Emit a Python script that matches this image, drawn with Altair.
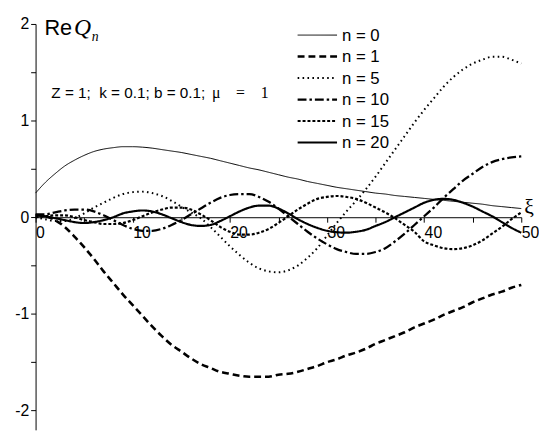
import altair as alt
import pandas as pd

# ---------------- data ----------------
xi = list(range(51))

n0 = [0.25, 0.36, 0.45, 0.53, 0.59, 0.64, 0.68, 0.705, 0.72, 0.73,
      0.73, 0.725, 0.715, 0.70, 0.685, 0.67, 0.65, 0.63, 0.61, 0.585,
      0.56, 0.535, 0.51, 0.49, 0.465, 0.44, 0.415, 0.395, 0.37, 0.35,
      0.33, 0.31, 0.295, 0.28, 0.265, 0.25, 0.24, 0.225, 0.215, 0.205,
      0.195, 0.185, 0.175, 0.165, 0.155, 0.145, 0.135, 0.12, 0.11, 0.10,
      0.09]

n1 = [0.02, 0.01, -0.03, -0.10, -0.20, -0.31, -0.43, -0.56, -0.68, -0.80,
      -0.91, -1.02, -1.13, -1.23, -1.32, -1.39, -1.46, -1.52, -1.56, -1.60,
      -1.62, -1.64, -1.65, -1.65, -1.65, -1.63, -1.62, -1.60, -1.57, -1.54,
      -1.50, -1.47, -1.43, -1.40, -1.36, -1.31, -1.27, -1.23, -1.19, -1.14,
      -1.10, -1.06, -1.01, -0.97, -0.93, -0.88, -0.84, -0.80, -0.77, -0.73,
      -0.70]

n5 = [0.0, -0.02, -0.04, -0.04, -0.01, 0.04, 0.10, 0.15, 0.20, 0.24,
      0.26, 0.265, 0.25, 0.22, 0.17, 0.11, 0.05, -0.01, -0.10, -0.20,
      -0.30, -0.39, -0.47, -0.53, -0.56, -0.57, -0.55, -0.50, -0.42, -0.32,
      -0.19, -0.06, 0.06, 0.17, 0.29, 0.42, 0.56, 0.70, 0.84, 0.98,
      1.11, 1.23, 1.35, 1.45, 1.53, 1.59, 1.63, 1.66, 1.66, 1.63,
      1.59]

n10 = [0.03, 0.03, 0.05, 0.07, 0.08, 0.08, 0.06, 0.02, -0.03, -0.08,
       -0.12, -0.14, -0.14, -0.12, -0.08, -0.03, 0.03, 0.09, 0.15, 0.20,
       0.23, 0.24, 0.24, 0.21, 0.16, 0.09, 0.01, -0.07, -0.15, -0.22,
       -0.28, -0.33, -0.36, -0.38, -0.38, -0.36, -0.32, -0.25, -0.17, -0.08,
       0.01, 0.10, 0.20, 0.29, 0.38, 0.45, 0.52, 0.57, 0.60, 0.62,
       0.63]

n15 = [0.0, 0.01, 0.02, 0.02, 0.0, -0.03, -0.05, -0.07, -0.07, -0.06,
       -0.03, 0.01, 0.05, 0.08, 0.10, 0.10, 0.08, 0.03, -0.03, -0.10,
       -0.15, -0.18, -0.18, -0.16, -0.12, -0.06, 0.01, 0.08, 0.14, 0.19,
       0.21, 0.22, 0.21, 0.19, 0.15, 0.10, 0.05, -0.01, -0.08, -0.15,
       -0.25, -0.29, -0.32, -0.33, -0.32, -0.29, -0.24, -0.17, -0.10, -0.02,
       0.05]

n20 = [0.02, 0.01, -0.01, -0.03, -0.05, -0.06, -0.05, -0.03, 0.0, 0.04,
       0.06, 0.07, 0.06, 0.03, -0.01, -0.05, -0.08, -0.09, -0.08, -0.04,
       0.01, 0.06, 0.10, 0.12, 0.12, 0.09, 0.04, -0.02, -0.07, -0.11,
       -0.14, -0.155, -0.16, -0.15, -0.13, -0.09, -0.05, 0.0, 0.05, 0.10,
       0.15, 0.18, 0.19, 0.18, 0.15, 0.11, 0.06, 0.01, -0.05, -0.11,
       -0.16]

series_names = ["n = 0", "n = 1", "n = 5", "n = 10", "n = 15", "n = 20"]
series_values = [n0, n1, n5, n10, n15, n20]

x_ticks = [0, 5, 10, 15, 20, 25, 30, 35, 40, 45, 50]
y_ticks = [-2, -1.5, -1, -0.5, 0, 0.5, 1, 1.5, 2]

# ---------------- styles ----------------
dashes = [[1, 0], [7, 4], [1.6, 3.4], [9, 3, 2.5, 3], [3, 2], [1, 0]]
widths = [1.0, 2.6, 2.0, 2.3, 2.2, 2.2]

SANS = "Liberation Sans"
SERIF = "Liberation Serif"
NB = "\u00a0"
EM = "\u2003"

W, H = 493, 412
Y_DOMAIN = [-2.2, 2]
PX_PER_UNIT = H / (Y_DOMAIN[1] - Y_DOMAIN[0])
ZERO_FROM_BOTTOM = (0 - Y_DOMAIN[0]) * PX_PER_UNIT

x_axis = alt.Axis(
    values=x_ticks,
    labelExpr="datum.value % 10 === 0 ? toString(datum.value) : ''",
    offset=-ZERO_FROM_BOTTOM,
    grid=False, title=None,
    domainColor="black", tickColor="black", domainWidth=1, tickWidth=1,
    tickSize=5, labelAlign="left", labelPadding=3,
    labelFont=SANS, labelFontSize=16, labelColor="black",
    labelFlush=False, labelOverlap=False, labelBound=False,
)
y_axis = alt.Axis(
    values=y_ticks,
    labelExpr="datum.value % 1 === 0 ? toString(datum.value) : ''",
    grid=False, title=None,
    domainColor="black", tickColor="black", domainWidth=1, tickWidth=1,
    tickSize=5, labelPadding=2,
    labelFont=SANS, labelFontSize=16, labelColor="black",
    labelFlush=False, labelOverlap=False, labelBound=False,
)

x_enc = alt.X("xi:Q", scale=alt.Scale(domain=[0, 50], nice=False, zero=False), axis=x_axis)
y_enc = alt.Y("v:Q", scale=alt.Scale(domain=Y_DOMAIN, nice=False, zero=False), axis=y_axis)

layers = []
for name, vals, dash, w in zip(series_names, series_values, dashes, widths):
    df = pd.DataFrame({"xi": xi, "v": vals, "series": name})
    layers.append(
        alt.Chart(df).mark_line(
            color="black", strokeWidth=w, strokeDash=dash,
            interpolate="monotone", strokeCap="butt", clip=False,
        ).encode(x=x_enc, y=y_enc)
    )

# ---------------- legend (hand-made, top right) ----------------
for i, (name, dash, w) in enumerate(zip(series_names, dashes, widths)):
    ly = 11.3 + i * 21.8
    dfl = pd.DataFrame({"label": [name]})
    layers.append(
        alt.Chart(dfl).mark_rule(color="black", strokeWidth=w, strokeDash=dash, strokeCap="butt")
        .encode(x=alt.value(266), x2=alt.value(306), y=alt.value(ly))
    )
    layers.append(
        alt.Chart(dfl).mark_text(align="left", baseline="middle", font=SANS, fontSize=17, color="black")
        .encode(x=alt.value(311), y=alt.value(ly + 1), text="label:N")
    )

# ---------------- annotations ----------------
one = pd.DataFrame({"k": [0]})
layers.append(alt.Chart(one).mark_text(text="Re", align="left", baseline="alphabetic", font=SANS,
                                       fontSize=22, color="black").encode(x=alt.value(9), y=alt.value(11.5)))
layers.append(alt.Chart(one).mark_text(text="Q", align="left", baseline="alphabetic", font=SERIF,
                                       fontStyle="italic", fontSize=24, color="black").encode(x=alt.value(39), y=alt.value(11.5)))
layers.append(alt.Chart(one).mark_text(text="n", align="left", baseline="alphabetic", font=SERIF,
                                       fontStyle="italic", fontSize=14, color="black").encode(x=alt.value(57), y=alt.value(17)))
layers.append(alt.Chart(one).mark_text(text=f"Z = 1;{NB}{NB}k = 0.1; b = 0.1;", align="left", baseline="alphabetic",
                                       font=SANS, fontSize=15.5, color="black").encode(x=alt.value(16), y=alt.value(75)))
layers.append(alt.Chart(one).mark_text(text=f"\u03bc{EM}={EM}1", align="left", baseline="alphabetic",
                                       font=SERIF, fontSize=16, color="black").encode(x=alt.value(179), y=alt.value(75)))
layers.append(alt.Chart(one).mark_text(text="\u03be", align="left", baseline="alphabetic",
                                       font=SERIF, fontSize=22, color="black").encode(x=alt.value(496), y=alt.value(193)))

chart = alt.layer(*layers).properties(
    width=W, height=H,
    autosize=alt.AutoSizeParams(type="none"),
    padding={"left": 28, "top": 13, "right": 18, "bottom": 0},
    background="white",
).configure_view(stroke=None)

chart.save("out.html", embed_options={"renderer": "svg", "actions": False})
